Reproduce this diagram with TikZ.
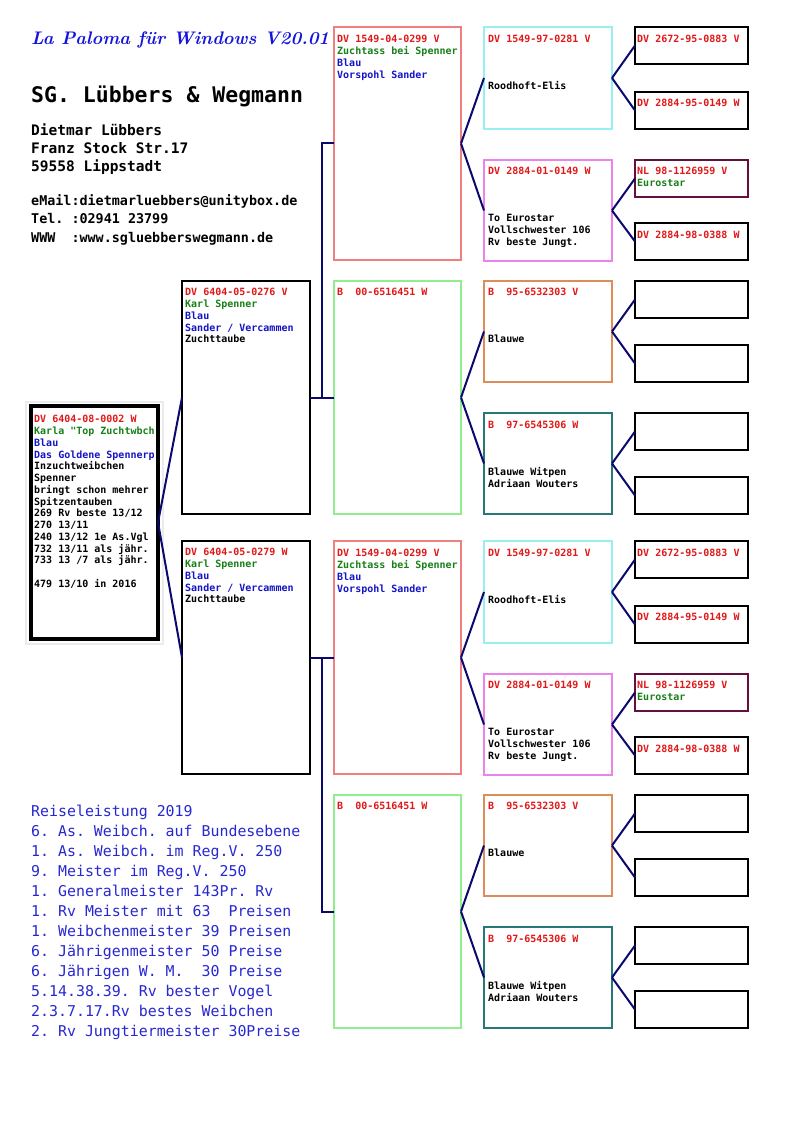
\documentclass[tikz,border=0pt]{standalone}
\usepackage{fontspec}
\usepackage{graphicx}
\setmonofont{DejaVu Sans Mono}
\usetikzlibrary{calc}
\definecolor{cred}{RGB}{226,24,24}
\definecolor{cgreen}{RGB}{24,128,24}
\definecolor{cblue}{RGB}{20,20,200}
\definecolor{navyl}{RGB}{10,10,110}
\definecolor{salmonb}{RGB}{240,128,128}
\definecolor{lgreenb}{RGB}{144,238,144}
\definecolor{lcyanb}{RGB}{150,240,240}
\definecolor{violetb}{RGB}{236,130,236}
\definecolor{orangeb}{RGB}{222,140,90}
\definecolor{tealb}{RGB}{40,120,120}
\definecolor{maroonb}{RGB}{100,15,60}
\definecolor{titleblue}{RGB}{20,20,220}
\definecolor{listblue}{RGB}{40,40,210}
\tikzset{
  pbox/.style={draw, line width=2pt, anchor=north west, inner sep=0pt, outer sep=0pt, fill=white},
  btxt/.style={anchor=north west, inner sep=0pt, align=left, font=\fontsize{10}{11.75}\selectfont\ttfamily\bfseries},
  conn/.style={draw=navyl, line width=2pt},
  hdr/.style={anchor=base west, inner sep=0pt},
  listtxt/.style={anchor=base west, inner sep=0pt, text=listblue, font=\fontsize{14.9}{20}\selectfont\ttfamily},
}
\newcommand\pb[6]{\node[pbox, draw=#6, minimum width=#4pt, minimum height=#5pt] (#1) at (#2,#3) {};}
\newcommand\bt[4]{\node[btxt] (#1t) at ([xshift=#2pt,yshift=-#3pt]#1.north west) {\strut #4};}
\begin{document}
\begin{tikzpicture}[x=1pt,y=-1pt]
\useasboundingbox (0,0) rectangle (794,1123);
\fill[white] (0,0) rectangle (794,1123);

% header
\node[anchor=west, inner sep=0pt, text=titleblue, font=\bfseries\itshape] (title) at (31,40) {\resizebox{298pt}{!}{La Paloma für Windows V20.01}};
\node[hdr, font=\fontsize{21.5}{25}\selectfont\ttfamily\bfseries] (firm) at (31,103) {SG. Lübbers \& Wegmann};
\node[hdr, font=\fontsize{14.5}{18}\selectfont\ttfamily\bfseries] (addr1) at (31,136) {Dietmar Lübbers};
\node[hdr, font=\fontsize{14.5}{18}\selectfont\ttfamily\bfseries] (addr2) at (31,154) {Franz Stock Str.17};
\node[hdr, font=\fontsize{14.5}{18}\selectfont\ttfamily\bfseries] (addr3) at (31,172) {59558 Lippstadt};
\node[hdr, font=\fontsize{13.4}{18}\selectfont\ttfamily\bfseries] (mail) at (31,206) {eMail:dietmarluebbers@unitybox.de};
\node[hdr, font=\fontsize{13.4}{18}\selectfont\ttfamily\bfseries] (tel) at (31,224) {Tel. :02941 23799};
\node[hdr, font=\fontsize{13.4}{18}\selectfont\ttfamily\bfseries] (www) at (31,242) {WWW~~:www.sgluebberswegmann.de};

% subject
\draw[black!8, line width=2pt] (26,402) rectangle (163,644);
\node[pbox, line width=4.5pt, minimum width=127pt, minimum height=233pt] (subj) at (31,406) {};
\bt{subj}{3}{8.5}{\textcolor{cred}{DV 6404-08-0002 W}\\
\textcolor{cgreen}{Karla "Top Zuchtwbch}\\
\textcolor{cblue}{Blau}\\
\textcolor{cblue}{Das Goldene Spennerp}\\
Inzuchtweibchen\\
Spenner\\
bringt schon mehrer\\
Spitzentauben\\
269 Rv beste 13/12\\
270 13/11\\
240 13/12 1e As.Vgl\\
732 13/11 als jähr.\\
733 13 /7 als jähr.\\
~\\
479 13/10 in 2016}

% generation 1
\pb{g1a}{182}{281}{128}{233}{black}
\bt{g1a}{3}{6.5}{\textcolor{cred}{DV 6404-05-0276 V}\\
\textcolor{cgreen}{Karl Spenner}\\
\textcolor{cblue}{Blau}\\
\textcolor{cblue}{Sander / Vercammen}\\
Zuchttaube}
\pb{g1b}{182}{541}{128}{233}{black}
\bt{g1b}{3}{6.5}{\textcolor{cred}{DV 6404-05-0279 W}\\
\textcolor{cgreen}{Karl Spenner}\\
\textcolor{cblue}{Blau}\\
\textcolor{cblue}{Sander / Vercammen}\\
Zuchttaube}

% generations 2-4, two halves
\foreach \h/\o in {u/0, l/514}{
  \pb{P\h}{334}{27+\o}{127}{233}{salmonb}
  \bt{P\h}{3}{7.5}{\textcolor{cred}{DV 1549-04-0299 V}\\
  \textcolor{cgreen}{Zuchtass bei Spenner}\\
  \textcolor{cblue}{Blau}\\
  \textcolor{cblue}{Vorspohl Sander}}
  \pb{Q\h}{334}{281+\o}{127}{233}{lgreenb}
  \bt{Q\h}{3}{6.5}{\textcolor{cred}{B~~00-6516451 W}}

  \pb{C\h}{484}{27+\o}{128}{102}{lcyanb}
  \bt{C\h}{4}{7.5}{\textcolor{cred}{DV 1549-97-0281 V}\\~\\~\\~\\Roodhoft-Elis}
  \pb{V\h}{484}{160+\o}{128}{101}{violetb}
  \bt{V\h}{4}{6.5}{\textcolor{cred}{DV 2884-01-0149 W}\\~\\~\\~\\To Eurostar\\Vollschwester 106\\Rv beste Jungt.}
  \pb{O\h}{484}{281+\o}{128}{101}{orangeb}
  \bt{O\h}{4}{6.5}{\textcolor{cred}{B~~95-6532303 V}\\~\\~\\~\\Blauwe}
  \pb{T\h}{484}{413+\o}{128}{101}{tealb}
  \bt{T\h}{4}{7}{\textcolor{cred}{B~~97-6545306 W}\\~\\~\\~\\Blauwe Witpen\\Adriaan Wouters}

  \pb{Fa\h}{635}{27+\o}{113}{37}{black}
  \bt{Fa\h}{2}{7.5}{\textcolor{cred}{DV 2672-95-0883 V}}
  \pb{Fb\h}{635}{92+\o}{113}{37}{black}
  \bt{Fb\h}{2}{6.5}{\textcolor{cred}{DV 2884-95-0149 W}}
  \pb{Fc\h}{635}{160+\o}{113}{37}{maroonb}
  \bt{Fc\h}{2}{6.5}{\textcolor{cred}{NL 98-1126959 V}\\\textcolor{cgreen}{Eurostar}}
  \pb{Fd\h}{635}{223+\o}{113}{37}{black}
  \bt{Fd\h}{2}{7}{\textcolor{cred}{DV 2884-98-0388 W}}
  \pb{Fe\h}{635}{281+\o}{113}{37}{black}
  \pb{Ff\h}{635}{345+\o}{113}{37}{black}
  \pb{Fg\h}{635}{413+\o}{113}{37}{black}
  \pb{Fh\h}{635}{477+\o}{113}{37}{black}

  \draw[conn] (P\h.east) -- (C\h.west);
  \draw[conn] (P\h.east) -- (V\h.west);
  \draw[conn] (Q\h.east) -- (O\h.west);
  \draw[conn] (Q\h.east) -- (T\h.west);
  \draw[conn] (C\h.east) -- (Fa\h.west);
  \draw[conn] (C\h.east) -- (Fb\h.west);
  \draw[conn] (V\h.east) -- (Fc\h.west);
  \draw[conn] (V\h.east) -- (Fd\h.west);
  \draw[conn] (O\h.east) -- (Fe\h.west);
  \draw[conn] (O\h.east) -- (Ff\h.west);
  \draw[conn] (T\h.east) -- (Fg\h.west);
  \draw[conn] (T\h.east) -- (Fh\h.west);
}

% connectors generation 0-2
\draw[conn] (subj.east) -- (g1a.west);
\draw[conn] (subj.east) -- (g1b.west);
\draw[conn] (g1a.east) -- (Qu.west);
\draw[conn] ($(g1a.east)!0.5!(Qu.west)$) |- (Pu.west);
\draw[conn] (g1b.east) -- (Pl.west);
\draw[conn] ($(g1b.east)!0.5!(Pl.west)$) |- (Ql.west);

% list
\foreach \t [count=\i] in {Reiseleistung 2019,
  6. As. Weibch. auf Bundesebene,
  1. As. Weibch. im Reg.V. 250,
  9. Meister im Reg.V. 250,
  1. Generalmeister 143Pr. Rv,
  1. Rv Meister mit 63~~Preisen,
  1. Weibchenmeister 39 Preisen,
  6. Jährigenmeister 50 Preise,
  6. Jährigen W. M.~~30 Preise,
  5.14.38.39. Rv bester Vogel,
  2.3.7.17.Rv bestes Weibchen,
  2. Rv Jungtiermeister 30Preise}{
  \node[listtxt] (list\i) at (31,796+20*\i) {\t};
}
\end{tikzpicture}
\end{document}
